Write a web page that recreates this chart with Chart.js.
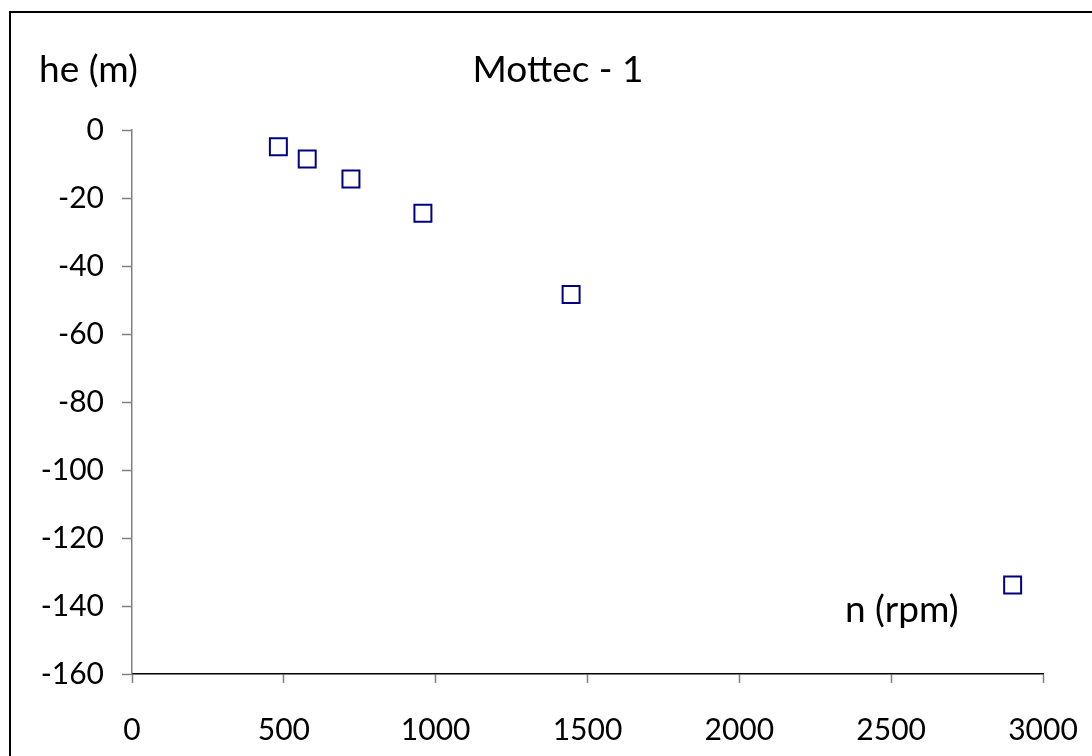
<!DOCTYPE html>
<html>
<head>
<meta charset="utf-8">
<script src="https://cdn.jsdelivr.net/npm/chart.js@4.4.1/dist/chart.umd.min.js"></script>
<style>
  html, body { margin: 0; padding: 0; background: #fff; overflow: hidden; }
  #wrap { position: relative; width: 1092px; height: 756px; }
  #frame {
    position: absolute; left: 9px; top: 11px; width: 2000px; height: 2000px;
    border: 2px solid #000; box-sizing: border-box; pointer-events: none;
  }
  canvas { position: absolute; left: 0; top: 0; }
</style>
</head>
<body>
<div id="wrap">
  <canvas id="chart" width="1092" height="756"></canvas>
  <div id="frame"></div>
</div>
<script>
// pump speed vs. head
const speedRpm = [482, 577, 721, 958, 1446, 2900];
const headM = [-4.9, -8.5, -14.4, -24.5, -48.4, -133.8];

const xTicks = [0, 500, 1000, 1500, 2000, 2500, 3000];
const yTicks = [0, -20, -40, -60, -80, -100, -120, -140, -160];

const chartTitle = "Mottec - 1";
const yLabel = "he (m)";
const xLabel = "n (rpm)";

const FONT = "Lato, 'Open Sans', sans-serif";

// free-floating texts (title and axis names)
const labelsPlugin = {
  id: "floatingLabels",
  afterDraw(chart) {
    const ctx = chart.ctx;
    ctx.save();
    ctx.fillStyle = "#000";
    ctx.textBaseline = "alphabetic";
    ctx.font = "37px " + FONT;
    ctx.textAlign = "left";
    ctx.fillText(yLabel, 39, 82);
    ctx.textAlign = "center";
    ctx.fillText(chartTitle, 558, 82);
    ctx.textAlign = "left";
    ctx.fillText(xLabel, 845, 622);
    ctx.restore();
  }
};

const points = speedRpm.map((n, i) => ({ x: n, y: headM[i] }));

new Chart(document.getElementById("chart"), {
  type: "scatter",
  data: {
    datasets: [{
      data: points,
      pointStyle: "rect",
      pointRadius: 12,
      pointHoverRadius: 12,
      pointBorderWidth: 2,
      borderColor: "#000080",
      backgroundColor: "rgba(255,255,255,0)",
      clip: false
    }]
  },
  options: {
    responsive: false,
    animation: false,
    layout: { padding: { top: 130, right: 49, bottom: 0, left: 0 } },
    plugins: {
      legend: { display: false },
      tooltip: { enabled: false },
      title: { display: false }
    },
    scales: {
      x: {
        type: "linear",
        min: xTicks[0],
        max: xTicks[xTicks.length - 1],
        afterBuildTicks: s => { s.ticks = xTicks.map(v => ({ value: v })); },
        afterFit: s => { s.height = 82; s.paddingRight = 0; },
        border: { color: "#000", width: 1.5 },
        grid: { drawOnChartArea: false, drawTicks: true, tickLength: 9, tickColor: "#808080", tickWidth: 1.5 },
        ticks: {
          color: "#000", font: { family: FONT, size: 30 }, padding: 29, maxRotation: 0,
          callback: v => String(v)
        }
      },
      y: {
        type: "linear",
        min: yTicks[yTicks.length - 1],
        max: yTicks[0],
        afterBuildTicks: s => { s.ticks = yTicks.map(v => ({ value: v })); },
        afterFit: s => { s.width = 132; },
        border: { color: "#808080", width: 1.5 },
        grid: { drawOnChartArea: false, drawTicks: true, tickLength: 10, tickColor: "#808080", tickWidth: 1.5 },
        ticks: { color: "#000", font: { family: FONT, size: 30 }, padding: 18, callback: v => String(v) }
      }
    }
  },
  plugins: [labelsPlugin]
});
</script>
</body>
</html>
